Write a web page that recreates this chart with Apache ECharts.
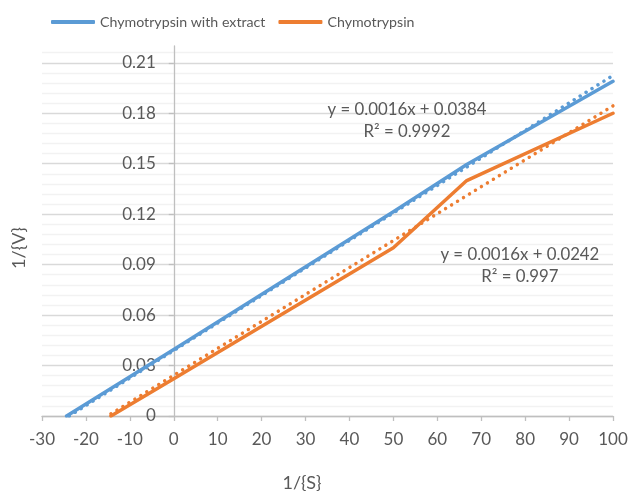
<!DOCTYPE html>
<html>
<head>
<meta charset="utf-8">
<script src="https://cdn.jsdelivr.net/npm/echarts@6/dist/echarts.min.js"></script>
<style>
  html, body { margin: 0; padding: 0; background: #fff; }
  #chart { width: 630px; height: 493px; }
</style>
</head>
<body>
<div id="chart"></div>
<script>
/* Lineweaver-Burk plot: chymotrypsin with / without extract */

const xTicks = { min: -30, max: 100, step: 10 };
const yTicks = { min: 0, max: 0.22, step: 0.03, minorStep: 0.006 };

const seriesNames = ['Chymotrypsin with extract', 'Chymotrypsin'];

// solid lines
const extractX = [-24.4, 0, 50, 66.7, 100];
const extractY = [0, 0.0395, 0.1215, 0.1495, 0.199];
const plainX = [-14.3, 0, 50, 66.7, 100];
const plainY = [0, 0.0222, 0.1, 0.14, 0.18];

// dotted trendlines, end points
const extractTrendX = [-23.8, 100];
const extractTrendY = [0, 0.2025];
const plainTrendX = [-14.3, 100];
const plainTrendY = [0.0013, 0.1844];

const trendText = [
  'y = 0.0016x + 0.0384\nR² = 0.9992',
  'y = 0.0016x + 0.0242\nR² = 0.997',
];
// where the equation boxes sit, in data units
const trendAnchor = [[53.1, 0.1755], [78.8, 0.0892]];

const BLUE = '#5B9BD5';
const ORANGE = '#ED7D31';
const TEXT = '#595959';
const AXIS = '#BFBFBF';
const FONT = 'Lato, "Liberation Sans", Arial, sans-serif';

const W = 630, H = 493;
const grid = { left: 42, right: 17, top: 46, bottom: 77 };
// the vertical axis crosses at x = 0
const yAxisShift = (0 - xTicks.min) / (xTicks.max - xTicks.min) * (W - grid.left - grid.right);

const zip = (xs, ys) => xs.map((x, i) => [x, ys[i]]);

function solid(name, xs, ys, color) {
  return {
    name, type: 'line', data: zip(xs, ys),
    symbol: 'none', smooth: false,
    lineStyle: { color, width: 3.5, cap: 'round', join: 'round' },
    itemStyle: { color },
    emphasis: { disabled: true },
    z: 3,
  };
}

function trend(xs, ys, color, text, anchor) {
  return {
    type: 'line', data: zip(xs, ys),
    symbol: 'none', silent: true,
    lineStyle: { color, width: 3.5, type: [0.01, 7], cap: 'round' },
    emphasis: { disabled: true },
    z: 4,
    markPoint: {
      silent: true,
      symbol: 'circle', symbolSize: 0,
      data: [{ coord: anchor, value: 0 }],
      label: {
        show: true, position: 'inside', formatter: text,
        color: TEXT, fontSize: 16.8, fontFamily: FONT,
        align: 'center', lineHeight: 22,
      },
    },
  };
}

const minorColors = ['transparent', '#F2F2F2', '#F2F2F2', '#F2F2F2', '#F2F2F2'];

const chart = echarts.init(document.getElementById('chart'), null, { renderer: 'canvas' });
chart.setOption({
  animation: false,
  backgroundColor: '#fff',
  textStyle: { fontFamily: FONT },
  legend: {
    data: seriesNames,
    left: 46, top: 10,
    icon: 'roundRect',
    itemWidth: 44, itemHeight: 4, itemGap: 13,
    textStyle: { color: TEXT, fontSize: 14.2, fontFamily: FONT },
  },
  grid: Object.assign({ containLabel: false, outerBoundsMode: 'none' }, grid),
  xAxis: {
    type: 'value',
    min: xTicks.min, max: xTicks.max, interval: xTicks.step,
    name: '1/{S}', nameLocation: 'middle', nameGap: 58,
    nameTextStyle: { color: TEXT, fontSize: 18, fontFamily: FONT, padding: [0, 51, 0, 0] },
    axisLine: { onZero: true, lineStyle: { color: AXIS, width: 1.3 } },
    axisTick: { show: true, length: 5, lineStyle: { color: AXIS, width: 1.3 } },
    axisLabel: { color: TEXT, fontSize: 17, fontFamily: FONT, margin: 15.5 },
    splitLine: { show: false },
  },
  yAxis: [{
    type: 'value', position: 'left', offset: -yAxisShift,
    min: yTicks.min, max: yTicks.max, interval: yTicks.step,
    name: '1/{V}', nameLocation: 'middle', nameRotate: 90, nameGap: 146,
    nameTextStyle: { color: TEXT, fontSize: 18, fontFamily: FONT, padding: [0, 34, 0, 0] },
    axisLine: { show: true, onZero: false, lineStyle: { color: AXIS, width: 1.3 } },
    axisTick: { show: true, length: 5, lineStyle: { color: AXIS, width: 1.3 } },
    axisLabel: { color: TEXT, fontSize: 17, fontFamily: FONT, margin: 18, showMaxLabel: false },
    splitLine: { show: true, showMaxLine: false, lineStyle: { color: '#D9D9D9', width: 1.3 } },
  }, {
    type: 'value', position: 'right',
    min: yTicks.min, max: yTicks.max, interval: yTicks.minorStep,
    axisLine: { show: false }, axisTick: { show: false }, axisLabel: { show: false },
    splitLine: { show: true, showMaxLine: false, lineStyle: { color: minorColors, width: 1.3 } },
    z: 0,
  }],
  series: [
    solid(seriesNames[0], extractX, extractY, BLUE),
    solid(seriesNames[1], plainX, plainY, ORANGE),
    trend(extractTrendX, extractTrendY, BLUE, trendText[0], trendAnchor[0]),
    trend(plainTrendX, plainTrendY, ORANGE, trendText[1], trendAnchor[1]),
  ],
});
window.addEventListener('resize', () => chart.resize());
</script>
</body>
</html>
